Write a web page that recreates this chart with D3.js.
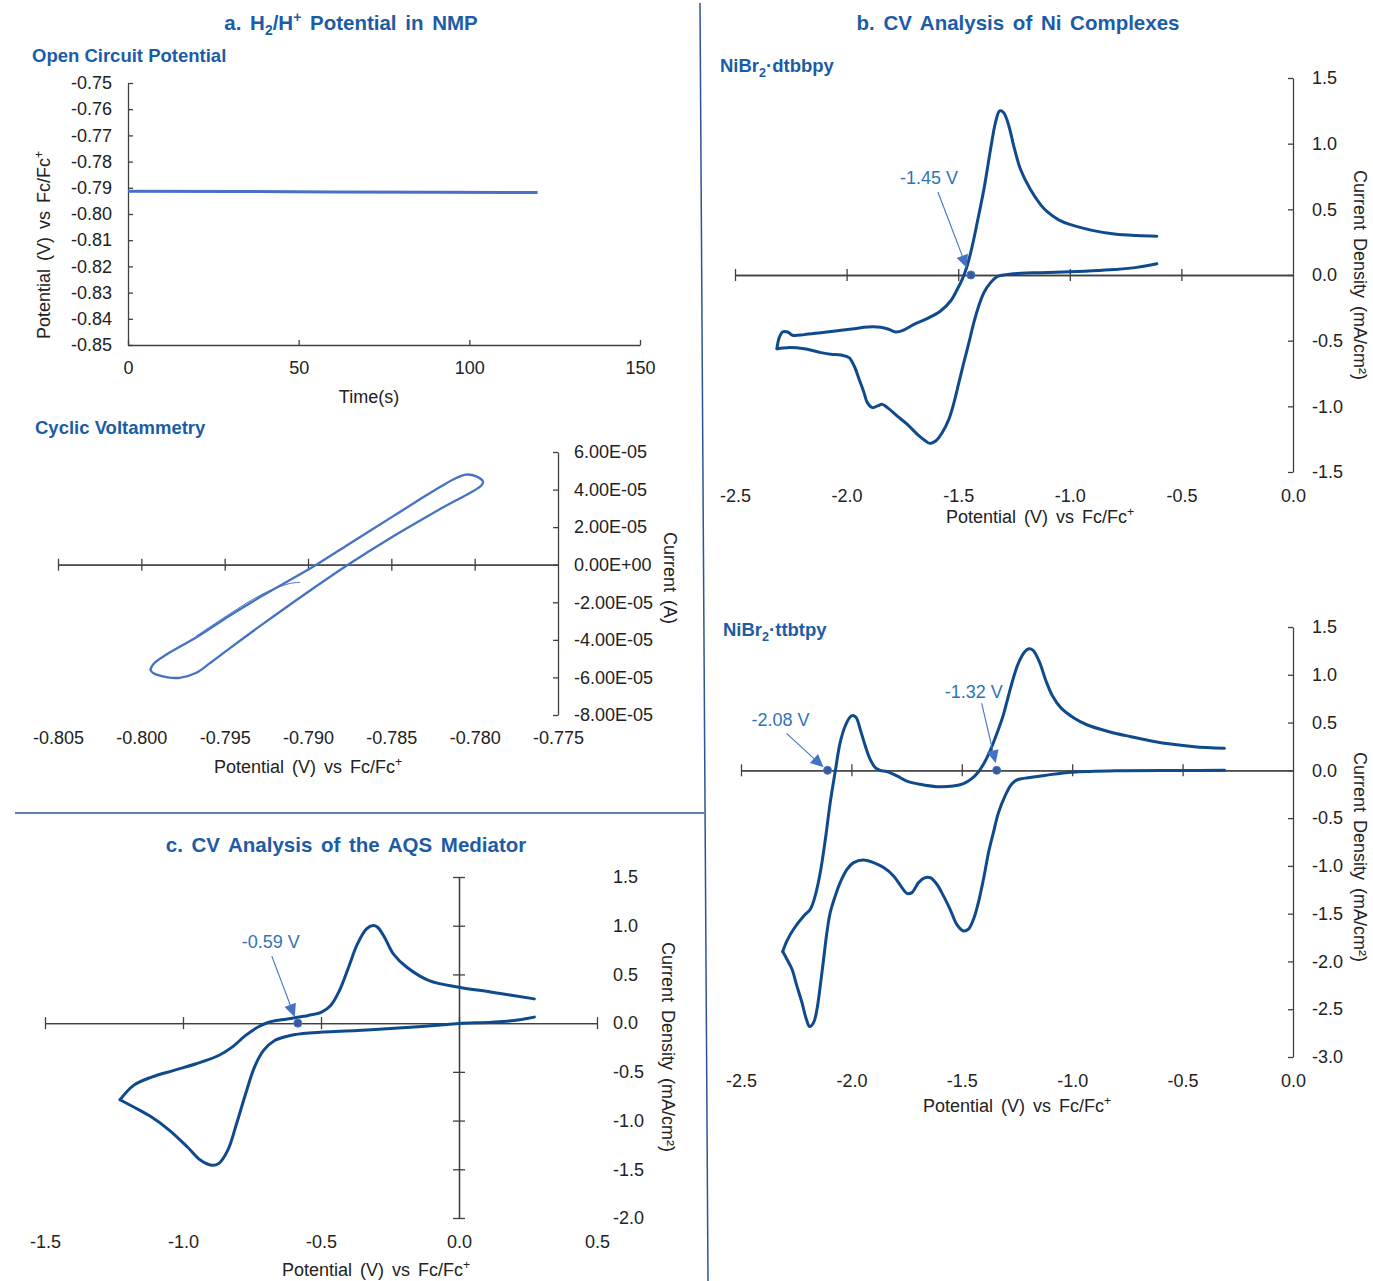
<!DOCTYPE html>
<html>
<head>
<meta charset="utf-8">
<script src="https://cdn.jsdelivr.net/npm/d3@7"></script>
<style>
  body { margin: 0; background: #fff; }
  svg { display: block; }
</style>
</head>
<body>
<svg id="fig" width="1373" height="1281"></svg>
<script>
// ---- a. open circuit potential (time in s, potential in V vs Fc/Fc+)
var ocpTime = [0, 30, 60, 90, 120];
var ocpPotential = [-0.7913, -0.7914, -0.7916, -0.7917, -0.7918];
var ocpTimeTicks = [0, 50, 100, 150];
var ocpPotentialTicks = [-0.85, -0.84, -0.83, -0.82, -0.81, -0.80, -0.79, -0.78, -0.77, -0.76, -0.75];

// ---- a. cyclic voltammetry of H2/H+ (V, A), closed loop from the negative vertex
var h2LoopV = [-0.79946, -0.79926, -0.79847, -0.79667, -0.79468, -0.79269, -0.79129, -0.78950, -0.78751, -0.7850, -0.7830,
  -0.7820, -0.7812, -0.7805, -0.7799, -0.7795, -0.7796, -0.7820, -0.7850, -0.7876, -0.7900, -0.7927, -0.7947,
  -0.7959, -0.7967, -0.7977, -0.7985, -0.7993, -0.79946];
var h2LoopI = [-5.59e-5, -5.27e-5, -4.77e-5, -3.85e-5, -2.70e-5, -1.63e-5, -0.92e-5, 0, 1.12e-5, 2.52e-5, 3.64e-5,
  4.18e-5, 4.58e-5, 4.80e-5, 4.70e-5, 4.42e-5, 4.22e-5, 3.00e-5, 1.45e-5, 0, -1.45e-5, -3.15e-5, -4.45e-5,
  -5.25e-5, -5.75e-5, -6.02e-5, -5.98e-5, -5.76e-5, -5.59e-5];
// first, thinner start of the scan
var h2StartV = [-0.7905, -0.7911, -0.7927, -0.7947, -0.7967];
var h2StartI = [-0.94e-5, -1.00e-5, -1.55e-5, -2.62e-5, -3.80e-5];
var h2PotentialTicks = [-0.805, -0.800, -0.795, -0.790, -0.785, -0.780, -0.775];
var h2CurrentTicks = [6e-5, 4e-5, 2e-5, 0, -2e-5, -4e-5, -6e-5, -8e-5];

// ---- b. NiBr2·dtbbpy (V vs Fc/Fc+, mA/cm2)
var dtbbpyRevV = [-0.61, -0.70, -0.80, -0.90, -1.00, -1.132, -1.221, -1.296, -1.326, -1.355, -1.385, -1.408, -1.430,
  -1.452, -1.475, -1.497, -1.519, -1.542, -1.572, -1.601, -1.627, -1.646, -1.683, -1.728, -1.773, -1.817, -1.840,
  -1.862, -1.884, -1.907, -1.922, -1.944, -1.966, -1.989, -2.026, -2.071, -2.115, -2.190, -2.265, -2.312];
var dtbbpyRevJ = [0.085, 0.058, 0.042, 0.032, 0.025, 0.018, 0.013, 0.0, -0.013, -0.058, -0.135, -0.236, -0.363,
  -0.515, -0.668, -0.820, -0.972, -1.099, -1.201, -1.264, -1.282, -1.264, -1.213, -1.137, -1.074, -1.010, -0.985,
  -0.997, -1.010, -0.972, -0.896, -0.794, -0.693, -0.629, -0.609, -0.604, -0.591, -0.561, -0.553, -0.561];
var dtbbpyFwdV = [-2.312, -2.302, -2.287, -2.265, -2.242, -2.190, -2.115, -2.041, -1.966, -1.907, -1.847, -1.810,
  -1.780, -1.750, -1.698, -1.639, -1.579, -1.534, -1.504, -1.482, -1.460, -1.437, -1.415, -1.385, -1.355, -1.333,
  -1.314, -1.296, -1.273, -1.251, -1.221, -1.177, -1.132, -1.10, -1.05, -1.00, -0.90, -0.80, -0.70, -0.61];
var dtbbpyFwdJ = [-0.561, -0.477, -0.434, -0.434, -0.459, -0.454, -0.439, -0.424, -0.409, -0.396, -0.398, -0.414,
  -0.434, -0.424, -0.376, -0.332, -0.274, -0.198, -0.109, -0.033, 0.069, 0.221, 0.398, 0.652, 0.957, 1.160,
  1.249, 1.236, 1.135, 0.982, 0.805, 0.652, 0.538, 0.48, 0.42, 0.385, 0.34, 0.312, 0.300, 0.295];
var dtbbpyMarkerV = [-1.443];
var dtbbpyMarkerText = ["-1.45 V"];
var dtbbpyDensityTicks = [1.5, 1.0, 0.5, 0.0, -0.5, -1.0, -1.5];

// ---- b. NiBr2·ttbtpy
var ttbtpyRevV = [-0.31, -0.50, -0.80, -1.00, -1.10, -1.15, -1.20, -1.236, -1.259, -1.281, -1.304, -1.334, -1.357,
  -1.379, -1.402, -1.425, -1.447, -1.470, -1.492, -1.523, -1.553, -1.583, -1.613, -1.643, -1.666, -1.696, -1.726,
  -1.749, -1.771, -1.809, -1.854, -1.900, -1.945, -1.990, -2.020, -2.051, -2.073, -2.096, -2.111, -2.126, -2.141,
  -2.156, -2.171, -2.189, -2.204, -2.224, -2.247, -2.269, -2.292, -2.311];
var ttbtpyRevJ = [0.0, -0.002, -0.005, -0.02, -0.045, -0.062, -0.078, -0.09, -0.112, -0.164, -0.268, -0.443, -0.652,
  -0.861, -1.140, -1.384, -1.559, -1.663, -1.681, -1.611, -1.454, -1.314, -1.192, -1.123, -1.123, -1.175, -1.280,
  -1.287, -1.227, -1.105, -1.018, -0.966, -0.938, -0.966, -1.036, -1.175, -1.314, -1.489, -1.698, -1.977, -2.256,
  -2.500, -2.639, -2.681, -2.605, -2.430, -2.256, -2.082, -1.977, -1.897];
var ttbtpyFwdV = [-2.311, -2.292, -2.262, -2.216, -2.186, -2.164, -2.141, -2.118, -2.096, -2.073, -2.051, -2.028,
  -2.005, -1.993, -1.978, -1.960, -1.937, -1.915, -1.892, -1.870, -1.839, -1.794, -1.749, -1.689, -1.613, -1.538,
  -1.492, -1.455, -1.425, -1.402, -1.379, -1.357, -1.334, -1.311, -1.289, -1.266, -1.245, -1.216, -1.196, -1.177,
  -1.148, -1.119, -1.089, -1.051, -0.992, -0.934, -0.837, -0.739, -0.642, -0.545, -0.447, -0.311];
var ttbtpyFwdJ = [-1.897, -1.785, -1.663, -1.524, -1.454, -1.314, -1.070, -0.722, -0.338, -0.007, 0.289, 0.464,
  0.561, 0.575, 0.551, 0.429, 0.255, 0.115, 0.028, 0.0, -0.014, -0.059, -0.112, -0.146, -0.171, -0.164,
  -0.139, -0.087, -0.017, 0.063, 0.167, 0.289, 0.429, 0.586, 0.778, 0.969, 1.114, 1.238, 1.273, 1.255,
  1.132, 0.937, 0.778, 0.654, 0.548, 0.477, 0.407, 0.354, 0.308, 0.272, 0.248, 0.230];
var ttbtpyMarkerV = [-2.108, -1.342];
var ttbtpyMarkerText = ["-2.08 V", "-1.32 V"];
var ttbtpyDensityTicks = [1.5, 1.0, 0.5, 0.0, -0.5, -1.0, -1.5, -2.0, -2.5, -3.0];
var niPotentialTicks = [-2.5, -2.0, -1.5, -1.0, -0.5, 0.0];

// ---- c. AQS mediator
var aqsRevV = [0.273, 0.200, 0.119, 0.0, -0.043, -0.206, -0.368, -0.530, -0.611, -0.668, -0.708, -0.741, -0.773,
  -0.806, -0.838, -0.871, -0.895, -0.936, -0.984, -1.049, -1.114, -1.179, -1.228];
var aqsRevJ = [0.062, 0.027, 0.010, -0.003, -0.014, -0.048, -0.075, -0.099, -0.126, -0.178, -0.280, -0.451, -0.725,
  -1.032, -1.306, -1.442, -1.459, -1.408, -1.271, -1.100, -0.964, -0.861, -0.786];
var aqsFwdV = [-1.228, -1.179, -1.114, -1.033, -0.952, -0.871, -0.822, -0.773, -0.725, -0.692, -0.644, -0.595,
  -0.546, -0.498, -0.465, -0.433, -0.400, -0.368, -0.335, -0.311, -0.295, -0.270, -0.238, -0.189, -0.108, 0.0,
  0.119, 0.273];
var aqsFwdJ = [-0.786, -0.639, -0.554, -0.485, -0.417, -0.332, -0.246, -0.126, -0.034, 0.007, 0.034, 0.055,
  0.079, 0.113, 0.181, 0.335, 0.574, 0.813, 0.967, 1.001, 0.984, 0.882, 0.711, 0.574, 0.437, 0.369,
  0.318, 0.249];
var aqsMarkerV = [-0.584];
var aqsMarkerText = ["-0.59 V"];
var aqsPotentialTicks = [-1.5, -1.0, -0.5, 0.0, 0.5];
var aqsDensityTicks = [1.5, 1.0, 0.5, 0.0, -0.5, -1.0, -1.5, -2.0];

// ---- styles
var font = "'Liberation Sans', Arial, sans-serif";
var navy = "#0f4a8c", light = "#4472c4", titleBlue = "#1c5ca6", annoBlue = "#2e75b6";
var axisColor = "#404040", textColor = "#222";

var fmt = d3.formatLocale({decimal: ".", thousands: ",", grouping: [3], currency: ["", ""], minus: "-"}).format;
var f1 = fmt(".1f"), f2 = fmt(".2f"), f3 = fmt(".3f"), f0 = fmt("d");
function sci(v) {
    if (v === 0) return "0.00E+00";
    var e = Math.floor(Math.log10(Math.abs(v)) + 1e-9);
    var m = v / Math.pow(10, e);
    return m.toFixed(2) + "E" + (e < 0 ? "-" : "+") + String(Math.abs(e)).padStart(2, "0");
}

var svg = d3.select("#fig").attr("font-family", font);

function styleAxis(a) {
    a.selectAll("path, line").attr("stroke", axisColor).attr("stroke-width", 1.3);
}
function xAxisLine(x, y0, ticks, up, down) {
    var a = svg.append("g").attr("transform", "translate(0," + y0 + ")");
    if (down) a.append("g").call(d3.axisBottom(x).tickValues(ticks).tickSizeInner(down).tickSizeOuter(0).tickFormat(""));
    if (up) a.append("g").call(d3.axisTop(x).tickValues(ticks).tickSizeInner(up).tickSizeOuter(0).tickFormat(""));
    styleAxis(a);
}
function yAxisLine(y, x0, ticks, left, right) {
    var a = svg.append("g").attr("transform", "translate(" + x0 + ",0)");
    if (left) a.append("g").call(d3.axisLeft(y).tickValues(ticks).tickSizeInner(left).tickSizeOuter(0).tickFormat(""));
    if (right) a.append("g").call(d3.axisRight(y).tickValues(ticks).tickSizeInner(right).tickSizeOuter(0).tickFormat(""));
    styleAxis(a);
}
function xLabels(x, yPos, ticks, f) {
    svg.append("g").attr("transform", "translate(0," + yPos + ")")
        .call(d3.axisBottom(x).tickValues(ticks).tickSize(0).tickPadding(0).tickFormat(f))
        .call(function (a) { a.select(".domain").remove(); })
        .attr("font-size", 18).attr("font-family", font).attr("color", textColor)
        .selectAll("text").attr("y", 0).attr("dy", "0.35em");
}
function yLabels(y, xPos, ticks, f, side) {
    var ax = side === "left" ? d3.axisLeft(y) : d3.axisRight(y);
    svg.append("g").attr("transform", "translate(" + xPos + ",0)")
        .call(ax.tickValues(ticks).tickSize(0).tickPadding(0).tickFormat(f))
        .call(function (a) { a.select(".domain").remove(); })
        .attr("font-size", 18).attr("font-family", font).attr("color", textColor);
}
// text with optional sub/superscript pieces: parts = [[str, shift], ...]
function rich(x, y, parts, size, opts) {
    opts = opts || {};
    var t = svg.append("text").attr("x", x).attr("y", y)
        .attr("font-size", size).attr("fill", opts.fill || textColor)
        .attr("font-weight", opts.bold ? "bold" : "normal")
        .attr("text-anchor", opts.anchor || "start")
        .attr("word-spacing", opts.ws || 0);
    if (opts.rotate) t.attr("transform", "rotate(" + opts.rotate + "," + x + "," + y + ")");
    var cur = 0;
    parts.forEach(function (p) {
        var shift = p[1] || 0;
        var sp = t.append("tspan").text(p[0]).attr("dy", shift - cur);
        if (shift !== 0) sp.attr("font-size", size * 0.68);
        cur = shift;
    });
    return t;
}
function potentialTitle(x, y, rot) {
    return rich(x, y, [["Potential (V) vs Fc/Fc"], ["+", -7]], 18, {anchor: "middle", ws: 3, rotate: rot});
}
function densityTitle(x, y) {
    return rich(x, y, [["Current Density (mA/cm\u00b2)"]], 18, {anchor: "middle", ws: 3, rotate: 90});
}
function curve(x, y, vs, js, color, width) {
    var line = d3.line().x(function (d) { return x(d[0]); }).y(function (d) { return y(d[1]); })
        .curve(d3.curveCatmullRom.alpha(0.5));
    svg.append("path").datum(d3.zip(vs, js)).attr("d", line)
        .attr("fill", "none").attr("stroke", color).attr("stroke-width", width)
        .attr("stroke-linejoin", "round").attr("stroke-linecap", "round");
}
// marker dot on the axis with label and arrow; off = pixel offsets of label, arrow start, arrow tip
function marker(x, y, v, label, off) {
    var px = x(v), py = y(0);
    var sx = px + off[2], sy = py + off[3], tx = px + off[4], ty = py + off[5];
    var ang = Math.atan2(ty - sy, tx - sx), len = 13, hw = 6;
    var bx = tx - len * Math.cos(ang), by = ty - len * Math.sin(ang);
    svg.append("line").attr("x1", sx).attr("y1", sy).attr("x2", bx).attr("y2", by)
        .attr("stroke", light).attr("stroke-width", 1.1);
    svg.append("path").attr("fill", light).attr("d", "M" + tx + "," + ty +
        "L" + (bx + hw * Math.sin(ang)) + "," + (by - hw * Math.cos(ang)) +
        "L" + (bx - hw * Math.sin(ang)) + "," + (by + hw * Math.cos(ang)) + "Z");
    svg.append("circle").attr("cx", px).attr("cy", py).attr("r", 4)
        .attr("fill", "#3a5a9e").attr("stroke", light).attr("stroke-width", 1);
    svg.append("text").attr("x", px + off[0]).attr("y", py + off[1]).attr("text-anchor", "middle")
        .attr("font-size", 18).attr("fill", annoBlue).text(label);
}

// ---- dividers
svg.append("line").attr("x1", 700).attr("y1", 3).attr("x2", 708).attr("y2", 1281)
    .attr("stroke", "#2f5597").attr("stroke-width", 1.5);
svg.append("line").attr("x1", 15).attr("y1", 813).attr("x2", 704).attr("y2", 813)
    .attr("stroke", "#2f5597").attr("stroke-width", 1.5);

// ---- headings
rich(351, 30, [["a. H"], ["2", 5], ["/H"], ["+", -8], [" Potential in NMP"]], 20.5, {bold: true, fill: titleBlue, anchor: "middle", ws: 3});
rich(1018, 30, [["b. CV Analysis of Ni Complexes"]], 20.5, {bold: true, fill: titleBlue, anchor: "middle", ws: 3});
rich(346, 852, [["c. CV Analysis of the AQS Mediator"]], 20.5, {bold: true, fill: titleBlue, anchor: "middle", ws: 3});
rich(32, 62, [["Open Circuit Potential"]], 18.5, {bold: true, fill: titleBlue});
rich(35, 434, [["Cyclic Voltammetry"]], 18.5, {bold: true, fill: titleBlue});
rich(720, 72, [["NiBr"], ["2", 5], ["\u00b7dtbbpy"]], 18.5, {bold: true, fill: titleBlue});
rich(723, 636, [["NiBr"], ["2", 5], ["\u00b7ttbtpy"]], 18.5, {bold: true, fill: titleBlue});

// ---- a. open circuit potential
(function () {
    var x = d3.scaleLinear().domain([0, 150]).range([128, 640]);
    var y = d3.scaleLinear().domain([-0.85, -0.75]).range([345, 83]);
    xAxisLine(x, 345, ocpTimeTicks, 5, 0);
    yAxisLine(y, 128, ocpPotentialTicks, 0, 5);
    xLabels(x, 368, ocpTimeTicks, f0);
    yLabels(y, 112, ocpPotentialTicks, f2, "left");
    var line = d3.line().x(function (d) { return x(d[0]); }).y(function (d) { return y(d[1]); });
    svg.append("path").datum(d3.zip(ocpTime, ocpPotential)).attr("d", line)
        .attr("fill", "none").attr("stroke", light).attr("stroke-width", 3);
    rich(369, 403, [["Time(s)"]], 18, {anchor: "middle"});
    potentialTitle(50, 245, -90);
})();

// ---- a. cyclic voltammetry
(function () {
    var x = d3.scaleLinear().domain([-0.805, -0.775]).range([58, 558]);
    var y = d3.scaleLinear().domain([-8e-5, 6e-5]).range([715, 452]);
    xAxisLine(x, y(0), h2PotentialTicks.slice(0, 6), 6, 6);
    yAxisLine(y, 558, h2CurrentTicks, 5, 0);
    xLabels(x, 738, h2PotentialTicks, f3);
    yLabels(y, 574, h2CurrentTicks, sci, "right");
    curve(x, y, h2StartV, h2StartI, light, 1);
    curve(x, y, h2LoopV, h2LoopI, light, 2.3);
    potentialTitle(308, 773, 0);
    rich(664, 578, [["Current (A)"]], 18, {anchor: "middle", ws: 3, rotate: 90});
})();

// ---- b. NiBr2·dtbbpy
(function () {
    var x = d3.scaleLinear().domain([-2.5, 0]).range([735, 1293]);
    var y = d3.scaleLinear().domain([-1.5, 1.5]).range([472, 78]);
    xAxisLine(x, y(0), niPotentialTicks.slice(0, 5), 6, 6);
    yAxisLine(y, 1293, dtbbpyDensityTicks, 5, 0);
    xLabels(x, 496, niPotentialTicks, f1);
    yLabels(y, 1312, dtbbpyDensityTicks, f1, "right");
    curve(x, y, dtbbpyRevV, dtbbpyRevJ, navy, 3);
    curve(x, y, dtbbpyFwdV, dtbbpyFwdJ, navy, 3);
    marker(x, y, dtbbpyMarkerV[0], dtbbpyMarkerText[0], [-42, -91, -33, -83, -4, -7]);
    potentialTitle(1040, 523, 0);
    densityTitle(1354, 275);
})();

// ---- b. NiBr2·ttbtpy
(function () {
    var x = d3.scaleLinear().domain([-2.5, 0]).range([741, 1293]);
    var y = d3.scaleLinear().domain([-3, 1.5]).range([1057, 627]);
    xAxisLine(x, y(0), niPotentialTicks.slice(0, 5), 6, 6);
    yAxisLine(y, 1293, ttbtpyDensityTicks, 5, 0);
    xLabels(x, 1081, niPotentialTicks, f1);
    yLabels(y, 1312, ttbtpyDensityTicks, f1, "right");
    curve(x, y, ttbtpyRevV, ttbtpyRevJ, navy, 3);
    curve(x, y, ttbtpyFwdV, ttbtpyFwdJ, navy, 3);
    marker(x, y, ttbtpyMarkerV[0], ttbtpyMarkerText[0], [-47, -44, -41, -37, -4, -3]);
    marker(x, y, ttbtpyMarkerV[1], ttbtpyMarkerText[1], [-23, -72, -15, -67, -1, -7]);
    potentialTitle(1017, 1112, 0);
    densityTitle(1354, 857);
})();

// ---- c. AQS mediator
(function () {
    var x = d3.scaleLinear().domain([-1.5, 0.5]).range([45, 597]);
    var y = d3.scaleLinear().domain([-2, 1.5]).range([1218, 877]);
    xAxisLine(x, y(0), aqsPotentialTicks, 6, 6);
    yAxisLine(y, x(0), aqsDensityTicks, 6, 6);
    xLabels(x, 1242, aqsPotentialTicks, f1);
    yLabels(y, 613, aqsDensityTicks, f1, "right");
    curve(x, y, aqsRevV, aqsRevJ, navy, 3);
    curve(x, y, aqsFwdV, aqsFwdJ, navy, 3);
    marker(x, y, aqsMarkerV[0], aqsMarkerText[0], [-27, -75, -26, -67, -3, -6]);
    potentialTitle(376, 1276, 0);
    densityTitle(662, 1047);
})();
</script>
</body>
</html>
